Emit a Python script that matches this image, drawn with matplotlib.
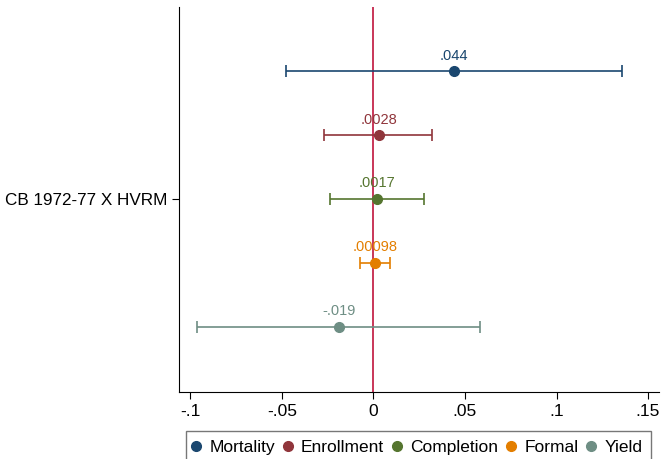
import matplotlib
matplotlib.use('Agg')
import matplotlib.pyplot as plt
from matplotlib.lines import Line2D

plt.rcParams['font.family'] = ['Liberation Sans', 'DejaVu Sans']

# estimates and 95% CIs for CB 1972-77 X HVRM, one per outcome
outcomes = ['Mortality', 'Enrollment', 'Completion', 'Formal', 'Yield']
coefs = [0.044, 0.0028, 0.0017, 0.00098, -0.019]
ci_low = [-0.0476, -0.0269, -0.0238, -0.0073, -0.0962]
ci_high = [0.1358, 0.0322, 0.0274, 0.0091, 0.0584]
labels = ['.044', '.0028', '.0017', '.00098', '-.019']
colors = ['#1a476f', '#90353b', '#55752f', '#e37e00', '#6e8e84']

term = 'CB 1972-77 X HVRM'
xticks = [-0.1, -0.05, 0, 0.05, 0.1, 0.15]
xticklabels = ['-.1', '-.05', '0', '.05', '.1', '.15']

fig = plt.figure(figsize=(6.62, 4.59), dpi=100)
ax = fig.add_axes([0.271, 0.146, 0.7245, 0.839])

offsets = [0.2, 0.1, 0.0, -0.1, -0.2]
handles = []
for i, name in enumerate(outcomes):
    y = 1 + offsets[i]
    c = colors[i]
    ax.errorbar(coefs[i], y,
                xerr=[[coefs[i] - ci_low[i]], [ci_high[i] - coefs[i]]],
                fmt='o', color=c, ms=7, elinewidth=1.2, capsize=4,
                capthick=1.2)
    ax.text(coefs[i], y + 0.013, labels[i], color=c, ha='center',
            va='bottom', fontsize=10.5)
    handles.append(Line2D([], [], marker='o', ls='', color=c, ms=7, label=name))

ax.axvline(0, color='#c0143c', lw=1.2, zorder=0)

ax.set_xlim(-0.106, 0.156)
ax.set_ylim(0.698, 1.30)
ax.set_xticks(xticks)
ax.set_xticklabels(xticklabels, fontsize=12.5)
ax.set_yticks([1])
ax.set_yticklabels([term], fontsize=12.3)
ax.tick_params(length=5, width=0.8, pad=4)
ax.spines['top'].set_visible(False)
ax.spines['right'].set_visible(False)

leg = fig.legend(handles=handles, loc='upper center',
                 bbox_to_anchor=(0.632, 0.061), ncol=5,
                 fontsize=12.5, frameon=True, fancybox=False,
                 handletextpad=0.63, columnspacing=0.64, handlelength=0.23,
                 borderpad=0.5, borderaxespad=0)
leg.get_frame().set_edgecolor('#555555')

fig.savefig('out.png', dpi=100)
